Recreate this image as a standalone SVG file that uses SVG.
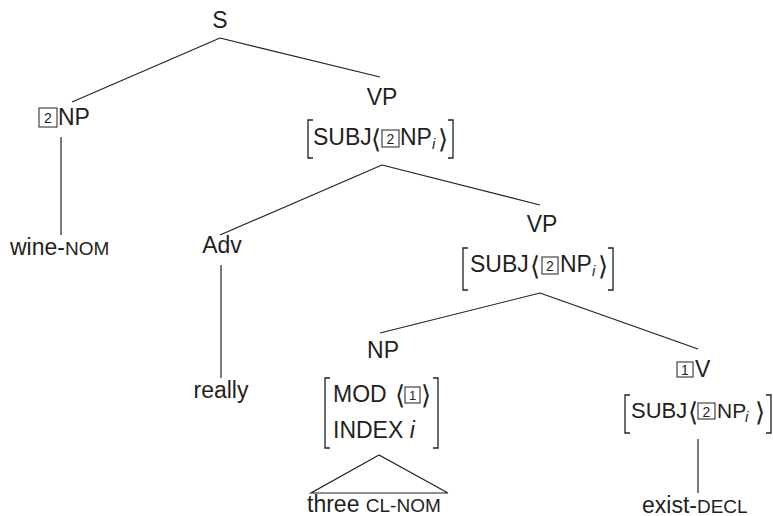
<svg xmlns="http://www.w3.org/2000/svg" width="773" height="516" viewBox="0 0 773 516">
  <style>
    .t { font-family: "Liberation Sans", Arial, sans-serif; font-size: 23px; fill: #231f20; }
    .sc { font-size: 19px; }
    .sub { font-family: "Liberation Sans", Arial, sans-serif; font-size: 15px; font-style: italic; fill: #231f20; }
    .it { font-style: italic; }
    .ang { font-family: "DejaVu Sans", sans-serif; font-size: 26px; fill: #231f20; font-weight: 200; }
    .num { font-family: "Liberation Sans", Arial, sans-serif; font-size: 14px; fill: #231f20; text-anchor: middle; }
    .box { fill: none; stroke: #444; stroke-width: 1.2; }
    .ln { stroke: #231f20; stroke-width: 1.2; fill: none; }
    .brk { stroke: #231f20; stroke-width: 1.3; fill: none; }
  </style>
  <rect width="773" height="516" fill="#ffffff"/>

  <!-- tree edges -->
  <g id="connectors">
    <line class="ln" x1="220" y1="38" x2="72" y2="102"/>
    <line class="ln" x1="220" y1="38" x2="380" y2="77"/>
    <line class="ln" x1="61" y1="137" x2="61" y2="235"/>
    <line class="ln" x1="382" y1="165" x2="220" y2="235"/>
    <line class="ln" x1="382" y1="165" x2="540" y2="205"/>
    <line class="ln" x1="221" y1="265" x2="221" y2="378"/>
    <line class="ln" x1="540" y1="293" x2="380" y2="333"/>
    <line class="ln" x1="540" y1="293" x2="698" y2="349"/>
    <line class="ln" x1="698" y1="439" x2="698" y2="493"/>
    <path class="ln" d="M379,455 L311,493 L448,493 Z"/>
  </g>

  <g id="S">
    <text class="t" x="220" y="28" text-anchor="middle">S</text>
  </g>

  <g id="NP-subject">
    <rect class="box" x="39" y="108" width="18" height="19"/>
    <text class="num" x="48" y="123">2</text>
    <text class="t" x="58" y="125">NP</text>
  </g>

  <g id="wine-nom">
    <text class="t" x="10" y="255">wine-<tspan class="sc">NOM</tspan></text>
  </g>

  <g id="VP-top">
    <text class="t" x="382" y="105" text-anchor="middle">VP</text>
    <path class="brk" d="M313,120 H308 V158 H313"/>
    <path class="brk" d="M448,120 H453 V158 H448"/>
    <text class="t" x="313" y="145">SUBJ</text>
    <text class="ang" x="371" y="148">⟨</text>
    <rect class="box" x="382" y="130" width="17" height="17"/>
    <text class="num" x="390.5" y="144">2</text>
    <text class="t" x="400" y="145">NP</text>
    <text class="sub" x="432" y="149">i</text>
    <text class="ang" x="438" y="148">⟩</text>
  </g>

  <g id="Adv">
    <text class="t" x="222" y="253" text-anchor="middle">Adv</text>
  </g>

  <g id="really">
    <text class="t" x="221" y="398" text-anchor="middle">really</text>
  </g>

  <g id="VP-lower">
    <text class="t" x="542" y="232" text-anchor="middle">VP</text>
    <path class="brk" d="M468,248 H463 V290 H468"/>
    <path class="brk" d="M608,248 H613 V290 H608"/>
    <text class="t" x="470" y="272">SUBJ</text>
    <text class="ang" x="530" y="275">⟨</text>
    <rect class="box" x="542" y="257" width="16" height="17"/>
    <text class="num" x="550" y="271">2</text>
    <text class="t" x="560" y="272">NP</text>
    <text class="sub" x="592" y="276">i</text>
    <text class="ang" x="598" y="275">⟩</text>
  </g>

  <g id="NP-object">
    <text class="t" x="383" y="358" text-anchor="middle">NP</text>
    <path class="brk" d="M330,378 H325 V448 H330"/>
    <path class="brk" d="M433,378 H438 V448 H433"/>
    <text class="t" x="333" y="402">MOD</text>
    <text class="ang" x="395" y="404">⟨</text>
    <rect class="box" x="405" y="387" width="15" height="16"/>
    <text class="num" x="412.5" y="400" style="font-size:13px">1</text>
    <text class="ang" x="421" y="404">⟩</text>
    <text class="t" x="333" y="438">INDEX <tspan class="it">i</tspan></text>
  </g>

  <g id="three-cl-nom">
    <text class="t" x="307" y="512">three <tspan class="sc">CL-NOM</tspan></text>
  </g>

  <g id="V">
    <rect class="box" x="677" y="362" width="16" height="15"/>
    <text class="num" x="685" y="375">1</text>
    <text class="t" x="695" y="377">V</text>
    <path class="brk" d="M630,395 H625 V433 H630"/>
    <path class="brk" d="M766,395 H771 V433 H766"/>
    <text class="t" x="631" y="418" style="font-size:22px">SUBJ</text>
    <text class="ang" x="688" y="421">⟨</text>
    <rect class="box" x="698" y="403" width="17" height="16"/>
    <text class="num" x="706.5" y="417">2</text>
    <text class="t" x="717" y="418" style="font-size:21px">NP</text>
    <text class="sub" x="745" y="422">i</text>
    <text class="ang" x="755" y="421">⟩</text>
  </g>

  <g id="exist-decl">
    <text class="t" x="642" y="513">exist-<tspan class="sc">DECL</tspan></text>
  </g>
</svg>
